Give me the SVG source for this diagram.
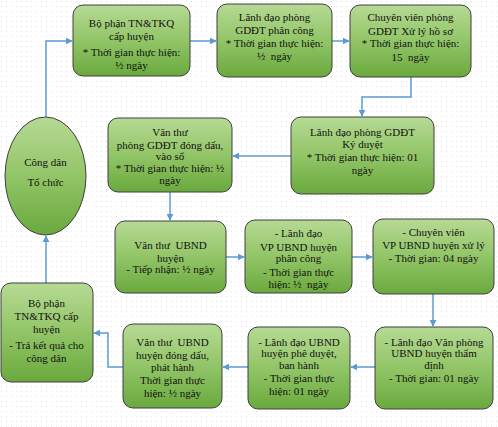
<svg xmlns="http://www.w3.org/2000/svg" width="498" height="427" viewBox="0 0 498 427">
<defs>
<pattern id="dots" width="5" height="5" patternUnits="userSpaceOnUse"><rect x="1" y="1" width="1" height="1" fill="#e4e4e4"/></pattern>
<linearGradient id="g" x1="0" y1="0" x2="0" y2="1"><stop offset="0" stop-color="#b6da94"/><stop offset="0.5" stop-color="#92c567"/><stop offset="1" stop-color="#6aa93e"/></linearGradient>
<marker id="ah" viewBox="0 0 10 10" refX="9" refY="5" markerWidth="7" markerHeight="7" markerUnits="userSpaceOnUse" orient="auto"><path d="M0,0 L10,5 L0,10 z" fill="#5b9bd5"/></marker>
</defs>
<style>
.b{fill:url(#g);stroke:#404040;stroke-width:1}
text{font-family:"Liberation Serif","Times New Roman",serif;font-size:11px;fill:#111;text-anchor:middle}
.c{fill:none;stroke:#5b9bd5;stroke-width:1.5;marker-end:url(#ah)}
</style>
<rect width="498" height="427" fill="#fff"/>
<rect width="498" height="427" fill="url(#dots)"/>
<g id="connectors">
<path class="c" d="M46,117 V41 H72"/>
<path class="c" d="M190,41 H216"/>
<path class="c" d="M332,41 H349"/>
<path class="c" d="M411,77 V97 H362 V116"/>
<path class="c" d="M291,156 H233"/>
<path class="c" d="M170,192 V220"/>
<path class="c" d="M226,257 H244"/>
<path class="c" d="M352,257 H372"/>
<path class="c" d="M433,294 V326"/>
<path class="c" d="M375,367 H351"/>
<path class="c" d="M248,367 H223"/>
<path class="c" d="M123,367 H108 V333 H94"/>
<path class="c" d="M46,283 V236"/>
</g>
<g id="n0"><ellipse class="b" cx="45.5" cy="176" rx="40.5" ry="59"/><text x="45.5" y="166">Công dân</text><text x="45.5" y="186">Tổ chức</text></g>
<g id="n1"><rect class="b" x="73" y="5" width="117" height="71" rx="10"/><text x="131.5" y="27">Bộ phận TN&amp;TKQ</text><text x="131.5" y="40">cấp huyện</text><text x="131.5" y="56">* Thời gian thực hiện:</text><text x="131.5" y="69">½ ngày</text></g>
<g id="n2"><rect class="b" x="217" y="4" width="115" height="73" rx="10"/><text x="274.5" y="21">Lãnh đạo phòng</text><text x="274.5" y="34">GDĐT phân công</text><text x="274.5" y="47">* Thời gian thực hiện:</text><text x="274.5" y="60" xml:space="preserve">½  ngày</text></g>
<g id="n3"><rect class="b" x="350" y="5" width="121" height="72" rx="10"/><text x="410.5" y="21">Chuyên viên phòng</text><text x="410.5" y="35">GDĐT Xử lý hồ sơ</text><text x="410.5" y="47">* Thời gian thực hiện:</text><text x="410.5" y="61" xml:space="preserve">15  ngày</text></g>
<g id="n4"><rect class="b" x="291" y="117" width="143" height="77" rx="10"/><text x="362.5" y="136">Lãnh đạo phòng GDĐT</text><text x="362.5" y="148">Ký duyệt</text><text x="362.5" y="161">* Thời gian thực hiện: 01</text><text x="362.5" y="174">ngày</text></g>
<g id="n5"><rect class="b" x="108" y="118" width="124" height="74" rx="10"/><text x="170" y="136">Văn thư</text><text x="170" y="149">phòng GDĐT đóng dấu,</text><text x="170" y="160">vào sổ</text><text x="170" y="172">* Thời gian thực hiện: ½</text><text x="170" y="184">ngày</text></g>
<g id="n6"><rect class="b" x="115" y="221" width="111" height="72" rx="10"/><text x="170.5" y="249" xml:space="preserve">Văn thư  UBND</text><text x="170.5" y="262">huyện</text><text x="170.5" y="273">- Tiếp nhận: ½ ngày</text></g>
<g id="n7"><rect class="b" x="245" y="220" width="107" height="73" rx="10"/><text x="298.5" y="237">- Lãnh đạo</text><text x="298.5" y="251">VP UBND huyện</text><text x="298.5" y="262">phân công</text><text x="298.5" y="276">- Thời gian thực</text><text x="298.5" y="288" xml:space="preserve">hiện: ½  ngày</text></g>
<g id="n8"><rect class="b" x="373" y="219" width="121" height="75" rx="10"/><text x="433.5" y="236">- Chuyên viên</text><text x="433.5" y="249">VP UBND huyện xử lý</text><text x="433.5" y="262">- Thời gian: 04 ngày</text></g>
<g id="n9"><rect class="b" x="375" y="327" width="118" height="82" rx="10"/><text x="434" y="346">- Lãnh đạo Văn phòng</text><text x="434" y="357">UBND huyện thẩm</text><text x="434" y="369">định</text><text x="434" y="382">- Thời gian: 01 ngày</text></g>
<g id="n10"><rect class="b" x="248" y="327" width="102" height="82" rx="10"/><text x="299" y="346">- Lãnh đạo UBND</text><text x="299" y="357">huyện phê duyệt,</text><text x="299" y="369">ban hành</text><text x="299" y="382">- Thời gian thực</text><text x="299" y="395">hiện: 01 ngày</text></g>
<g id="n11"><rect class="b" x="123" y="324" width="99" height="84" rx="10"/><text x="172.5" y="346" xml:space="preserve">Văn thư  UBND</text><text x="172.5" y="359">huyện đóng dấu,</text><text x="172.5" y="371">phát hành</text><text x="172.5" y="384">Thời gian thực</text><text x="172.5" y="397">hiện: ½ ngày</text></g>
<g id="n12"><rect class="b" x="1" y="283" width="92" height="99" rx="10"/><text x="46.5" y="307">Bộ phận</text><text x="46.5" y="320">TN&amp;TKQ cấp</text><text x="46.5" y="333">huyện</text><text x="46.5" y="349">- Trả kết quả cho</text><text x="46.5" y="362">công dân</text></g>
</svg>
